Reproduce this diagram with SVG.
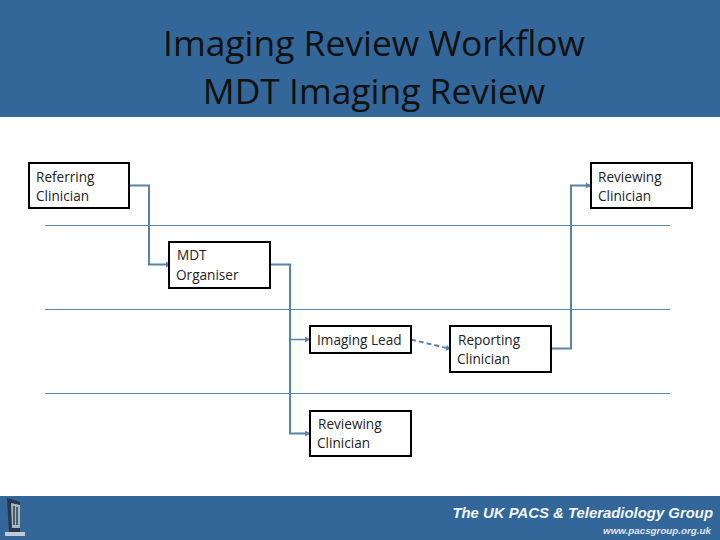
<svg xmlns="http://www.w3.org/2000/svg" width="720" height="540" viewBox="0 0 720 540">
<style>
.band{fill:#336699}
.box{fill:#fff;stroke:#000;stroke-width:2}
.lbl{font-family:"Open Sans","DejaVu Sans",sans-serif;font-size:13.600px;fill:#222}
.ttl{font-family:"Open Sans","DejaVu Sans",sans-serif;font-size:35.400px;fill:#111;text-anchor:middle}
.lane{stroke:#5f85a8;stroke-width:1;fill:none}
.c{stroke:#5b82a8;fill:none;stroke-width:2}
.t{stroke-width:1.500}
</style>
<defs>
<marker id="a" markerUnits="userSpaceOnUse" markerWidth="6" markerHeight="6" refX="5" refY="3" orient="auto"><path d="M0 0L5 3L0 6Z" fill="#5b82a8"/></marker>
</defs>
<rect class="band" x="0" y="0" width="720" height="117"/>
<text class="ttl" x="374" y="56">Imaging Review Workflow</text>
<text class="ttl" x="374" y="104">MDT Imaging Review</text>
<rect class="band" x="0" y="496" width="720" height="44"/>
<g id="logo">
<path d="M7 498L20 502V532H9Z" fill="#26384a"/>
<path d="M11 503L20 505V528H12Z" fill="#aab6be"/>
<path d="M14 506V525M17 507V525" stroke="#2f4356" stroke-width="1.500"/>
<rect x="5" y="532" width="20" height="4" fill="#c3ccd2"/>
</g>
<g id="footer">
<text x="713" y="518" text-anchor="end" font-family="Liberation Sans,Arial,sans-serif" font-size="14.900" font-weight="bold" font-style="italic" fill="#f4f7fa">The UK PACS &amp; Teleradiology Group</text>
<text x="711" y="534" text-anchor="end" font-family="Liberation Sans,Arial,sans-serif" font-size="9.800" font-weight="bold" font-style="italic" fill="#dfe6ed">www.pacsgroup.org.uk</text>
</g>
<g id="lanes">
<path class="lane" d="M45 225.500H670M45 309.500H670M45 393.500H670"/>
</g>
<g id="connectors">
<path class="c" d="M129 185.500H149V264.500H171" marker-end="url(#a)"/>
<path class="c" d="M270 264.500H290V433.500H310" marker-end="url(#a)"/>
<path class="c t" d="M290 339.500H310" marker-end="url(#a)"/>
<path class="c" d="M411 339.500L451 349" stroke-dasharray="5 3" marker-end="url(#a)"/>
<path class="c" d="M551 348.500H571V185.500H591" marker-end="url(#a)"/>
</g>
<g id="referring"><rect class="box" x="29" y="163" width="100" height="45"/><text class="lbl" x="36" y="182">Referring</text><text class="lbl" x="36" y="201">Clinician</text></g>
<g id="reviewing-top"><rect class="box" x="591" y="163" width="101" height="45"/><text class="lbl" x="598" y="182">Reviewing</text><text class="lbl" x="598" y="201">Clinician</text></g>
<g id="organiser"><rect class="box" x="169" y="242" width="101" height="46"/><text class="lbl" x="177" y="260">MDT</text><text class="lbl" x="176" y="280">Organiser</text></g>
<g id="imaging-lead"><rect class="box" x="310" y="326" width="101" height="27"/><text class="lbl" x="317" y="345">Imaging Lead</text></g>
<g id="reporting"><rect class="box" x="450" y="326" width="101" height="46"/><text class="lbl" x="458" y="345">Reporting</text><text class="lbl" x="457" y="364">Clinician</text></g>
<g id="reviewing-bottom"><rect class="box" x="310" y="411" width="101" height="45"/><text class="lbl" x="318" y="429">Reviewing</text><text class="lbl" x="317" y="448">Clinician</text></g>
</svg>
